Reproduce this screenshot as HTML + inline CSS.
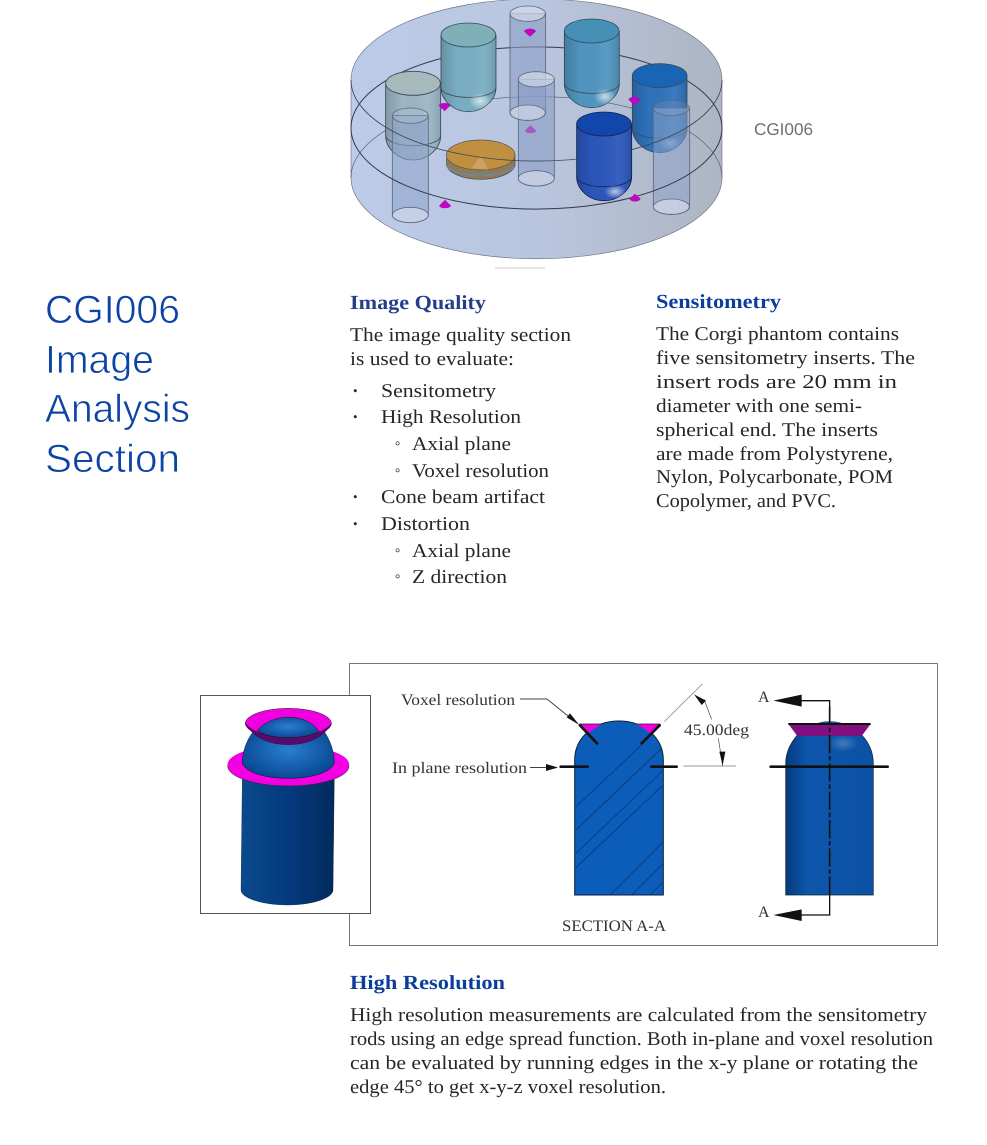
<!DOCTYPE html>
<html><head><meta charset="utf-8"><title>CGI006 Image Analysis Section</title>
<style>
html,body{margin:0;padding:0;background:#fff}
svg{display:block}
text{text-rendering:geometricPrecision}
.b{font-family:"Liberation Serif",serif;font-size:19.5px;fill:#262626}
.h{font-family:"Liberation Serif",serif;font-size:20px;font-weight:bold;fill:#0b3d9c}
.t{font-family:"Liberation Sans",sans-serif;font-size:39.5px;fill:#0c44a4;stroke:#fff;stroke-width:.7px;paint-order:normal}
.u{font-family:"Liberation Serif",serif;font-size:13px;fill:#262626}
</style></head><body>
<svg width="987" height="1145" viewBox="0 0 987 1145" xmlns="http://www.w3.org/2000/svg">
<defs>
<linearGradient id="disk" x1="0" x2="1" y1="0" y2="0"><stop offset="0" stop-color="#bccbe8"/><stop offset=".5" stop-color="#b9c6df"/><stop offset="1" stop-color="#aeb5c3"/></linearGradient>
<linearGradient id="sh" x1="0" x2="1" y1="0" y2="0"><stop offset="0" stop-color="#000" stop-opacity=".16"/><stop offset=".3" stop-color="#000" stop-opacity="0"/><stop offset=".75" stop-color="#fff" stop-opacity=".06"/><stop offset="1" stop-color="#000" stop-opacity=".12"/></linearGradient>
<radialGradient id="hl" cx=".5" cy=".5" r=".5"><stop offset="0" stop-color="#fff" stop-opacity=".65"/><stop offset="1" stop-color="#fff" stop-opacity="0"/></radialGradient>
<linearGradient id="rod" x1="0" x2="1" y1="0" y2="0"><stop offset="0" stop-color="#0b4a8e"/><stop offset=".5" stop-color="#043a7d"/><stop offset="1" stop-color="#022b5e"/></linearGradient>
<radialGradient id="dome" cx=".5" cy=".45" r=".6"><stop offset="0" stop-color="#2a7ed0"/><stop offset="1" stop-color="#06458f"/></radialGradient>
<linearGradient id="rod2" x1="0" x2="1" y1="0" y2="0"><stop offset="0" stop-color="#063a7c"/><stop offset=".25" stop-color="#0d56ab"/><stop offset="1" stop-color="#0c52a5"/></linearGradient>
<clipPath id="sec"><path d="M74 705V300C74 235 130 183 207 183C284 183 340 235 340 300V705Z"/></clipPath>
</defs>

<!-- phantom -->
<g transform="translate(340,0) scale(.33333)">
<path d="M33 240A556 243 0 0 1 1146 240V533A556 243 0 0 1 33 533Z" fill="url(#disk)"/>
<path d="M33 240A556 243 0 0 1 1146 240M33 240V533A556 243 0 0 0 1146 533V240" fill="none" stroke="#6f7683" stroke-width="2"/>
<!-- back arcs -->
<path d="M33 384A556 243 0 0 1 1146 384" fill="none" stroke="#333b4a" stroke-width="3"/>
<path d="M33 533A556 243 0 0 1 1146 533" fill="none" stroke="#535b6b" stroke-width="2"/>
<!-- tubes -->
<g fill="#8a9dc4" fill-opacity=".6" stroke="#5d6880" stroke-width="2.5">
<path d="M510 41V338A53 23 0 0 0 617 338V41Z"/>
<path d="M535 238V535A53 23 0 0 0 643 535V238Z"/>
</g>
<g fill="#d5dcea" fill-opacity=".65" stroke="#5d6880" stroke-width="2.5">
<ellipse cx="563" cy="41" rx="53" ry="23"/><ellipse cx="563" cy="338" rx="53" ry="23"/>
<ellipse cx="589" cy="238" rx="54" ry="23"/><ellipse cx="589" cy="535" rx="54" ry="23"/>
</g>
<!-- capsules -->
<g stroke="#3a4a5c" stroke-width="2.5">
<path d="M303 105V262C303 300 340 335 385 335C430 335 468 300 468 262V105Z" fill="#79aec2"/>
<path d="M303 105V262C303 300 340 335 385 335C430 335 468 300 468 262V105Z" fill="url(#sh)" stroke="none"/>
<ellipse cx="385" cy="105" rx="82" ry="36" fill="#7fb0b8"/>
<path d="M303 262A82 30 0 0 0 468 262" fill="none"/>
<ellipse cx="420" cy="303" rx="34" ry="24" fill="url(#hl)" stroke="none"/>

<path d="M137 250V407C137 445 174 480 219 480C264 480 302 445 302 407V250Z" fill="#9bb6c5"/>
<path d="M137 250V407C137 445 174 480 219 480C264 480 302 445 302 407V250Z" fill="url(#sh)" stroke="none"/>
<ellipse cx="219" cy="250" rx="82" ry="36" fill="#a6babc"/>
<path d="M137 407A82 30 0 0 0 302 407" fill="none"/>

<path d="M673 93V250C673 288 710 323 755 323C800 323 838 288 838 250V93Z" fill="#4f95c0"/>
<path d="M673 93V250C673 288 710 323 755 323C800 323 838 288 838 250V93Z" fill="url(#sh)" stroke="none"/>
<ellipse cx="755" cy="93" rx="82" ry="36" fill="#4490b6"/>
<path d="M673 250A82 30 0 0 0 838 250" fill="none"/>
<ellipse cx="795" cy="290" rx="34" ry="24" fill="url(#hl)" stroke="none"/>

<path d="M877 227V385C877 423 914 458 959 458C1004 458 1041 423 1041 385V227Z" fill="#2e72ba"/>
<path d="M877 227V385C877 423 914 458 959 458C1004 458 1041 423 1041 385V227Z" fill="url(#sh)" stroke="none"/>
<ellipse cx="959" cy="227" rx="82" ry="36" fill="#1a64b4"/>
<path d="M877 385A82 30 0 0 0 1041 385" fill="none"/>
<ellipse cx="990" cy="430" rx="32" ry="20" fill="url(#hl)" stroke="none" opacity=".6"/>
</g>
<!-- front tubes -->
<g fill="#8da2c8" fill-opacity=".55" stroke="#5d6880" stroke-width="2.5">
<path d="M157 347V645A54 23 0 0 0 265 645V347Z"/>
<path d="M940 324V620A54 23 0 0 0 1049 620V324Z"/>
</g>
<g fill="#d5dcea" fill-opacity=".5" stroke="#5d6880" stroke-width="2.5">
<ellipse cx="211" cy="347" rx="54" ry="23" fill-opacity=".15"/><ellipse cx="211" cy="645" rx="54" ry="23" fill-opacity=".7"/>
<ellipse cx="994" cy="324" rx="54" ry="23" fill-opacity=".1"/><ellipse cx="994" cy="620" rx="54" ry="23" fill-opacity=".7"/>
</g>
<!-- disc -->
<path d="M320 465V492C320 517 366 538 422 538C478 538 525 517 525 492V465Z" fill="#8f7a55" stroke="#444" stroke-width="2"/>
<path d="M322 500C335 518 375 526 422 526C470 526 510 518 523 500" fill="none" stroke="#6b88a6" stroke-width="5"/>
<ellipse cx="422" cy="465" rx="103" ry="45" fill="#c09040" stroke="#555" stroke-width="2"/>
<path d="M422 465L395 505L445 509Z" fill="#c9a265"/>
<!-- top ring front arc -->
<path d="M33 240A556 243 0 0 0 1146 240" fill="none" stroke="#3c4454" stroke-width="2.5"/>
<!-- dark capsule -->
<g stroke="#12254f" stroke-width="2.5">
<path d="M710 372V530C710 568 747 602 792 602C837 602 875 568 875 530V372Z" fill="#2b56bc"/>
<path d="M710 372V530C710 568 747 602 792 602C837 602 875 568 875 530V372Z" fill="url(#sh)" stroke="none"/>
<ellipse cx="792" cy="372" rx="82" ry="36" fill="#1246ac"/>
<path d="M710 530A82 30 0 0 0 875 530" fill="none"/>
<ellipse cx="825" cy="575" rx="32" ry="20" fill="url(#hl)" stroke="none"/>
</g>
<!-- mid ring front arc -->
<path d="M33 384A556 243 0 0 0 1146 384" fill="none" stroke="#333b4a" stroke-width="3"/>
<!-- markers -->
<g fill="#c800c8" stroke="#70207a" stroke-width="1">
<path d="M297 317A16 7 0 0 1 330 317L314 333Z"/>
<path d="M553 94A16 7 0 0 1 587 94L570 110Z"/>
<path d="M866 299A16 7 0 0 1 900 299L883 316Z"/>
<path d="M298 617L315 600L332 617A17 7 0 0 1 298 617Z"/>
<path d="M869 596L885 582L901 596A16 8 0 0 1 869 596Z"/>
</g>
<path d="M555 393L571 376L588 393A17 7 0 0 1 555 393Z" fill="#a65ac8" stroke="#7a4aa0"/>
</g>
<rect x="495" y="267" width="50" height="2" fill="#e4e4e4"/>
<text x="754" y="135" font-family="'Liberation Sans',sans-serif" font-size="17" fill="#6f6f6f" textLength="59" lengthAdjust="spacingAndGlyphs">CGI006</text>

<!-- title -->
<text class="t" x="45" y="323" textLength="135" lengthAdjust="spacingAndGlyphs">CGI006</text>
<text class="t" x="45" y="373" textLength="109" lengthAdjust="spacingAndGlyphs">Image</text>
<text class="t" x="45" y="422" textLength="145" lengthAdjust="spacingAndGlyphs">Analysis</text>
<text class="t" x="45" y="472" textLength="135" lengthAdjust="spacingAndGlyphs">Section</text>

<!-- column 1 -->
<g lengthAdjust="spacingAndGlyphs">
<text class="h" x="350" y="309" textLength="136" lengthAdjust="spacingAndGlyphs" style="fill:#263d8c">Image Quality</text>
<text class="b" x="350" y="341" textLength="221" lengthAdjust="spacingAndGlyphs">The image quality section</text>
<text class="b" x="350" y="365" textLength="164" lengthAdjust="spacingAndGlyphs">is used to evaluate:</text>
<text class="u" x="353" y="395">•</text><text class="u" x="353" y="421">•</text><text class="u" x="353" y="501">•</text><text class="u" x="353" y="528">•</text>
<text class="u" x="395" y="450">°</text><text class="u" x="395" y="477">°</text><text class="u" x="395" y="557">°</text><text class="u" x="395" y="583">°</text>
<text class="b" x="381" y="397" textLength="115" lengthAdjust="spacingAndGlyphs">Sensitometry</text>
<text class="b" x="381" y="423" textLength="140" lengthAdjust="spacingAndGlyphs">High Resolution</text>
<text class="b" x="412" y="450" textLength="99" lengthAdjust="spacingAndGlyphs">Axial plane</text>
<text class="b" x="412" y="477" textLength="137" lengthAdjust="spacingAndGlyphs">Voxel resolution</text>
<text class="b" x="381" y="503" textLength="164" lengthAdjust="spacingAndGlyphs">Cone beam artifact</text>
<text class="b" x="381" y="530" textLength="89" lengthAdjust="spacingAndGlyphs">Distortion</text>
<text class="b" x="412" y="557" textLength="99" lengthAdjust="spacingAndGlyphs">Axial plane</text>
<text class="b" x="412" y="583" textLength="95" lengthAdjust="spacingAndGlyphs">Z direction</text>

<!-- column 2 -->
<text class="h" x="656" y="308" textLength="125" lengthAdjust="spacingAndGlyphs">Sensitometry</text>
<text class="b" x="656" y="340" textLength="243" lengthAdjust="spacingAndGlyphs">The Corgi phantom contains</text>
<text class="b" x="656" y="364" textLength="259" lengthAdjust="spacingAndGlyphs">five sensitometry inserts. The</text>
<text class="b" x="656" y="388" textLength="241" lengthAdjust="spacingAndGlyphs">insert rods are 20 mm in</text>
<text class="b" x="656" y="412" textLength="206" lengthAdjust="spacingAndGlyphs">diameter with one semi-</text>
<text class="b" x="656" y="436" textLength="222" lengthAdjust="spacingAndGlyphs">spherical end. The inserts</text>
<text class="b" x="656" y="460" textLength="237" lengthAdjust="spacingAndGlyphs">are made from Polystyrene,</text>
<text class="b" x="656" y="483" textLength="237" lengthAdjust="spacingAndGlyphs">Nylon, Polycarbonate, POM</text>
<text class="b" x="656" y="507" textLength="180" lengthAdjust="spacingAndGlyphs">Copolymer, and PVC.</text>
</g>

<!-- diagram frame -->
<rect x="349.5" y="663.5" width="588" height="282" fill="#fff" stroke="#777"/>
<rect x="200.5" y="695.5" width="170" height="218" fill="#fff" stroke="#555"/>

<!-- 3D rod -->
<g transform="translate(190,660) scale(.33333)">
<path d="M157 350H433L429 690C429 715 365 735 292 735C220 735 153 715 153 690Z" fill="url(#rod)" stroke="#012" stroke-width="1"/>
<ellipse cx="295" cy="318" rx="182" ry="60" fill="#f000e0" stroke="#222" stroke-width="1.5"/>
<ellipse cx="295" cy="313" rx="182" ry="57" fill="#f400e4"/>
<path d="M157 310C157 270 175 225 205 200L390 200C415 225 433 270 433 310C420 340 360 355 295 355C230 355 170 340 157 310Z" fill="url(#dome)" stroke="#012" stroke-width="1.5"/>
<ellipse cx="295" cy="190" rx="129" ry="45" fill="#f000e0" stroke="#222" stroke-width="1.5"/>
<path d="M166 190C190 235 240 254 295 254C350 254 400 235 425 190C400 220 350 232 295 232C240 232 190 220 166 190Z" fill="#5a0a6a" stroke="#111"/>
<path d="M201 212C225 185 260 172 297 172C335 172 365 185 388 215C360 228 330 233 295 233C260 233 225 228 201 212Z" fill="url(#dome)" stroke="#111" stroke-width="1.5"/>
</g>

<!-- section drawing -->
<g transform="translate(550,660) scale(.33333)">
<path d="M74 705V300C74 235 130 183 207 183C284 183 340 235 340 300V705Z" fill="#0c5cba" stroke="#0d2238" stroke-width="3"/>
<g clip-path="url(#sec)" stroke="#0d2f5c" stroke-width="2" fill="none">
<path d="M78 440L280 250M78 510L340 260M78 580L340 330M78 622L340 375M180 705L340 545M245 705L340 610M300 705L340 665"/>
</g>
<path d="M88 192H158C140 200 125 212 112 222ZM258 192H330L305 222C290 212 275 200 258 192Z" fill="#f000e0"/>
<path d="M88 192H158M258 192H330" stroke="#222" stroke-width="2"/>
<g stroke="#111" stroke-width="8" stroke-linecap="round" fill="none">
<path d="M90 196L141 250M329 196L275 250"/>
<path d="M32 320H113M304 320H380"/>
</g>
<path d="M343 185L457 72M400 318H558" stroke="#777" stroke-width="2" fill="none"/>
<path d="M462 118L485 178M505 235L518 318" stroke="#444" stroke-width="2" fill="none"/>
<path d="M432 103L468 122L455 135ZM518 316L508 275L526 275Z" fill="#111"/>
<path d="M88 195L50 172L60 160Z" fill="#111"/>

<!-- right rod -->
<path d="M707 705V310C707 275 725 245 742 225H935C955 245 970 275 970 310V705Z" fill="url(#rod2)" stroke="#0d2238" stroke-width="2"/>
<ellipse cx="880" cy="250" rx="45" ry="25" fill="url(#hl)" opacity=".35"/>
<path d="M800 192C815 182 860 182 880 192Z" fill="#0c5cba" stroke="#0d2238"/>
<path d="M715 192H962L935 228H742Z" fill="#80107f"/>
<path d="M715 192H962" stroke="#111" stroke-width="6"/>
<path d="M662 320H1013" stroke="#111" stroke-width="8" stroke-linecap="round"/>
<path d="M839 140V705" stroke="#111" stroke-width="5" stroke-dasharray="55 8 14 8"/>
<path d="M839 705V765H750M750 122H839V150" stroke="#111" stroke-width="4" fill="none"/>
<path d="M670 122L755 104V140ZM670 765L755 748V783Z" fill="#111"/>
</g>

<!-- diagram labels -->
<g font-family="'Liberation Serif',serif" font-size="16" fill="#333">
<text x="401" y="705" textLength="114" lengthAdjust="spacingAndGlyphs">Voxel resolution</text>
<text x="392" y="773" textLength="135" lengthAdjust="spacingAndGlyphs">In plane resolution</text>
<text x="684" y="735" textLength="65" lengthAdjust="spacingAndGlyphs">45.00deg</text>
<text x="562" y="931" textLength="104" lengthAdjust="spacingAndGlyphs">SECTION A-A</text>
<text x="758" y="702">A</text>
<text x="758" y="917">A</text>
</g>
<g fill="none" stroke="#444">
<path d="M520 699H547L568 716"/>
<path d="M530 767.5H548"/>
</g>
<path d="M558 767.5L546 764V771Z" fill="#111"/>

<!-- bottom text -->
<text class="h" x="350" y="989" textLength="155" lengthAdjust="spacingAndGlyphs">High Resolution</text>
<text class="b" x="350" y="1021" textLength="577" lengthAdjust="spacingAndGlyphs">High resolution measurements are calculated from the sensitometry</text>
<text class="b" x="350" y="1045" textLength="583" lengthAdjust="spacingAndGlyphs">rods using an edge spread function. Both in-plane and voxel resolution</text>
<text class="b" x="350" y="1069" textLength="568" lengthAdjust="spacingAndGlyphs">can be evaluated by running edges in the x-y plane or rotating the</text>
<text class="b" x="350" y="1093" textLength="316" lengthAdjust="spacingAndGlyphs">edge 45° to get x-y-z voxel resolution.</text>
</svg>
</body></html>
